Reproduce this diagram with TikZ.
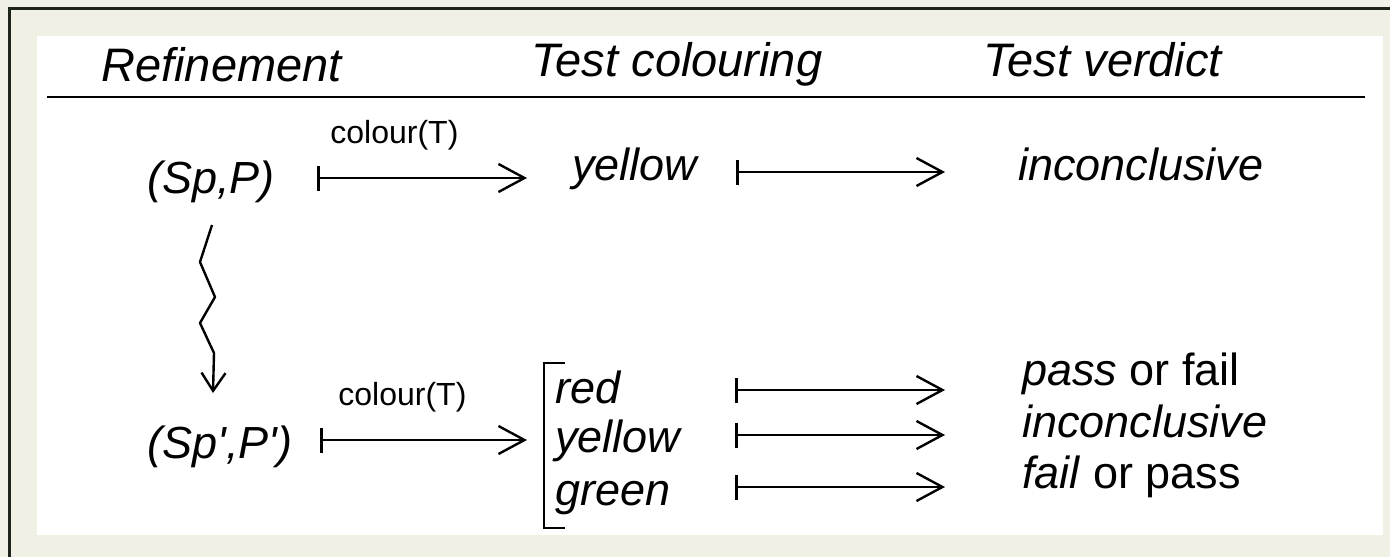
\documentclass[tikz,border=0pt]{standalone}
\usepackage{fontspec}
\setmainfont{Liberation Sans}
\usetikzlibrary{arrows.meta}
\definecolor{pagebg}{RGB}{240,240,229}
\definecolor{frameline}{RGB}{28,36,26}
\begin{document}
\begin{tikzpicture}[x=0.5pt,y=-0.5pt,
  txt/.style={inner sep=0pt,anchor=base west,font=\fontsize{22.5pt}{26pt}\selectfont\itshape},
  hdr/.style={inner sep=0pt,anchor=base west,font=\fontsize{23.5pt}{27pt}\selectfont\itshape},
  lbl/.style={inner sep=0pt,anchor=base west,font=\fontsize{16pt}{19pt}\selectfont},
  verdict/.style={inner sep=0pt,anchor=base west,font=\fontsize{22.5pt}{26pt}\selectfont},
  mapsto/.style={line width=1.2pt,
    {Bar[width=12.5pt,line width=1.5pt]}-{Straight Barb[length=13pt,width=14pt,line width=1.2pt]}},
  refine/.style={line width=1.2pt,-{Straight Barb[length=9pt,width=12pt,line width=1.2pt]}}]
% page, frame and white panel
\useasboundingbox (0,0) rectangle (1390,557);
\fill[pagebg] (0,0) rectangle (1390,557);
\draw[frameline,line width=1.5pt] (9.5,557) -- (9.5,8.5) -- (1390,8.5);
\fill[white] (37,36) rectangle (1383,535);

% column headings and rule
\node[hdr] (hRef) at (101,81) {Refinement};
\node[hdr] (hCol) at (531,76) {Test colouring};
\node[hdr] (hVer) at (983,76) {Test verdict};
\coordinate (ruleL) at (47,97);
\coordinate (ruleR) at (1365,97);
\draw[line width=1.3pt] (ruleL) -- (ruleR);

% first row
\node[txt] (sp) at (147,193) {(Sp,P)};
\node[lbl] (c1) at (330,143) {colour(T)};
\node[txt] (y1) at (572,180) {yellow};
\node[txt] (i1) at (1018,180) {inconclusive};
\coordinate (a1s) at (317,178);
\coordinate (a1e) at (527,178);
\coordinate (a2s) at (736,172);
\coordinate (a2e) at (945,172);
\draw[mapsto] (a1s) -- (a1e);
\draw[mapsto] (a2s) -- (a2e);

% refinement step
\coordinate (z0) at (212,225);
\coordinate (z1) at (200,262);
\coordinate (z2) at (215,297);
\coordinate (z3) at (200,323);
\coordinate (z4) at (214,353);
\coordinate (z5) at (213,393);
\draw[refine,line join=round] (z0) -- (z1) -- (z2) -- (z3) -- (z4) -- (z5);

% second row
\node[txt] (sp2) at (147,458) {(Sp\textquotesingle,P\textquotesingle)};
\node[lbl] (c2) at (338,405) {colour(T)};
\coordinate (a3s) at (320,440);
\coordinate (a3e) at (527,440);
\draw[mapsto] (a3s) -- (a3e);

\coordinate (bt) at (565,363);
\coordinate (bb) at (565,528);
\draw[line width=1.2pt] (bt) -- (544,363) -- (544,528) -- (bb);
\node[txt] (r2) at (555,403) {red};
\node[txt] (y2) at (555,452) {yellow};
\node[txt] (g2) at (555,505) {green};

\coordinate (b1s) at (735,390);
\coordinate (b1e) at (945,390);
\coordinate (b2s) at (735,435);
\coordinate (b2e) at (945,435);
\coordinate (b3s) at (735,487);
\coordinate (b3e) at (945,487);
\draw[mapsto] (b1s) -- (b1e);
\draw[mapsto] (b2s) -- (b2e);
\draw[mapsto] (b3s) -- (b3e);

\node[verdict] (v1) at (1022,385) {\textit{pass} or fail};
\node[verdict] (v2) at (1022,437) {\textit{inconclusive}};
\node[verdict] (v3) at (1022,488) {\textit{fail} or pass};
\end{tikzpicture}
\end{document}
